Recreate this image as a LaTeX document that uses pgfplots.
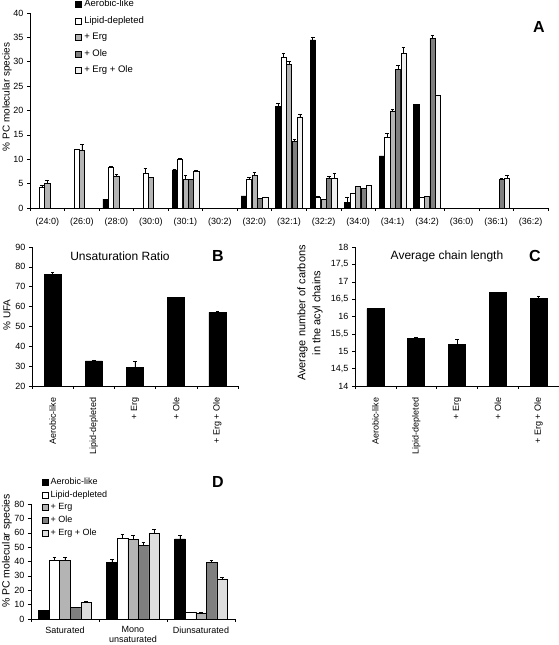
\documentclass[border=0pt]{standalone}
\usepackage{fontspec}
\setmainfont{Liberation Sans}
\usepackage{pgfplots}
\pgfplotsset{compat=1.18}
\definecolor{cerg}{HTML}{B4B4B4}
\definecolor{cole}{HTML}{7F7F7F}
\definecolor{ceo}{HTML}{F0F0F0}
\definecolor{ceoD}{HTML}{DEDEDE}
\pgfplotsset{
  base/.style={
    scale only axis, anchor=south west,
    axis x line*=bottom, axis y line*=left,
    axis line style={-, line width=0.6pt},
    tick align=outside, major tick length=3pt,
    every tick/.style={black, line width=0.5pt},
    /pgf/number format/assume math mode=true,
    tick label style={font=\fontsize{9}{10}\selectfont},
    clip=true,
  },
  sq/.style={legend image code/.code={\draw[##1, line width=0.5pt] (0pt,-3pt) rectangle (6pt,3pt);}},
  eb/.style={/pgfplots/error bars/y dir=plus, /pgfplots/error bars/y explicit,
    /pgfplots/error bars/error bar style={line width=0.5pt, black, solid},
    /pgfplots/error bars/error mark options={rotate=90, mark size=1.8pt, line width=0.5pt, black, solid}},
  bb/.style={draw=black, line width=0.5pt, sq, eb},
}
\begin{document}
\begin{tikzpicture}
\useasboundingbox (0pt,0pt) rectangle (559pt,645pt);

% ---------------- Panel A
\begin{axis}[base, at={(30pt,437pt)}, width=518pt, height=195pt,
  xmin=-0.5, xmax=14.5, ymin=0, ymax=40, ytick={0,5,...,40},
  xtick={-0.5,0.5,...,14.5}, x tick label as interval,
  xticklabels={(24:0),(26:0),(28:0),(30:0),(30:1),(30:2),(32:0),(32:1),(32:2),(34:0),(34:1),(34:2),(36:0),(36:1),(36:2)},
  xticklabel style={yshift=-3pt},
  ybar=0.2pt, bar width=5.2pt,
  legend cell align=left,
  legend style={draw=none, fill=none, inner sep=0pt, at={(0.087,1.074)}, anchor=north west,
    font=\fontsize{9.5}{10}\selectfont, row sep=5.5pt, column sep=1.5pt,
    nodes={inner sep=1pt, text height=7pt, text depth=2pt}},
]
\addplot[fill=black, bb] coordinates {(2,1.8)+-(0,0) (4,7.8)+-(0,0.1) (6,2.5)+-(0,0) (7,20.9)+-(0,0.6) (8,34.5)+-(0,0.6) (9,1.1)+-(0,1.2) (10,10.7)+-(0,0) (11,21.3)+-(0,0)};
\addplot[fill=white, bb] coordinates {(0,4.3)+-(0,0.3) (1,12.0)+-(0,0.1) (2,8.4)+-(0,0.1) (3,7.2)+-(0,0.9) (4,10.1)+-(0,0.1) (6,5.9)+-(0,0.4) (7,31.0)+-(0,0.8) (8,2.3)+-(0,0.2) (9,3.1)+-(0,0) (10,14.6)+-(0,0.7) (11,2.2)+-(0,0.1)};
\addplot[fill=cerg, bb] coordinates {(0,5.0)+-(0,0.7) (1,11.8)+-(0,1.2) (2,6.6)+-(0,0.3) (3,6.3)+-(0,0) (4,5.9)+-(0,0.8) (6,6.7)+-(0,0.6) (7,29.5)+-(0,0.5) (8,1.8)+-(0,0) (9,4.4)+-(0,0) (10,19.9)+-(0,0.4) (11,2.4)+-(0,0)};
\addplot[fill=cole, bb] coordinates {(4,5.8)+-(0,0) (6,1.9)+-(0,0) (7,13.6)+-(0,0.6) (8,6.1)+-(0,0.4) (9,4.0)+-(0,0) (10,28.4)+-(0,0.8) (11,34.8)+-(0,0.6) (13,5.9)+-(0,0.3)};
\addplot[fill=ceo, bb] coordinates {(4,7.5)+-(0,0.2) (6,2.3)+-(0,0) (7,18.7)+-(0,0.6) (8,6.2)+-(0,0.9) (9,4.7)+-(0,0) (10,31.7)+-(0,1.2) (11,23.2)+-(0,0) (13,6.0)+-(0,0.8)};
\legend{Aerobic-like, Lipid-depleted, + Erg, + Ole, + Erg + Ole}
\end{axis}

% ---------------- Panel B
\begin{axis}[base, at={(32pt,259pt)}, width=206pt, height=139pt,
  xmin=-0.5, xmax=4.5, ymin=20, ymax=90, ytick={20,30,...,90},
  xtick={-0.5,0.5,...,4.5}, x tick label as interval,
  xticklabels={Aerobic-like, Lipid-depleted, + Erg, + Ole, + Erg + Ole},
  xticklabel style={yshift=-5pt, rotate=90, anchor=east},
  ybar, bar width=17pt,
]
\addplot[fill=black, bb] coordinates {(0,76.2)+-(0,1.0) (1,32.6)+-(0,0.5) (2,29.4)+-(0,3.0) (3,64.6)+-(0,0.2) (4,57.1)+-(0,0.3)};
\end{axis}

% ---------------- Panel C
\begin{axis}[base, at={(355pt,259pt)}, width=204pt, height=139pt,
  xmin=-0.5, xmax=4.5, ymin=14, ymax=18, ytick={14,14.5,...,18},
  yticklabel style={/pgf/number format/.cd, fixed, use comma, precision=1},
  xtick={-0.5,0.5,...,4.5}, x tick label as interval,
  xticklabels={Aerobic-like, Lipid-depleted, + Erg, + Ole, + Erg + Ole},
  xticklabel style={yshift=-5pt, rotate=90, anchor=east},
  ybar, bar width=17pt,
]
\addplot[fill=black, bb] coordinates {(0,16.23)+-(0,0.02) (1,15.36)+-(0,0.05) (2,15.19)+-(0,0.15) (3,16.69)+-(0,0.02) (4,16.52)+-(0,0.05)};
\end{axis}

% ---------------- Panel D
\begin{axis}[base, at={(31pt,26pt)}, width=204pt, height=115pt,
  xmin=-0.5, xmax=2.5, ymin=0, ymax=80, ytick={0,10,...,80},
  xtick={-0.5,0.5,...,2.5}, x tick label as interval,
  xticklabels={Saturated, {Mono\\unsaturated}, Diunsaturated},
  xticklabel style={align=center, yshift=-1pt, font=\fontsize{9}{9.8}\selectfont},
  ybar=0pt, bar width=10.5pt,
  legend cell align=left,
  legend style={draw=none, fill=none, inner sep=0pt, at={(0.054,1.237)}, anchor=north west,
    font=\fontsize{9}{10}\selectfont, row sep=2.25pt, column sep=1pt,
    nodes={inner sep=1pt, text height=6.5pt, text depth=2pt}},
]
\addplot[fill=black, bb] coordinates {(0,6.0)+-(0,0.4) (1,39.5)+-(0,2) (2,55.8)+-(0,2.5)};
\addplot[fill=white, bb] coordinates {(0,40.7)+-(0,2) (1,56.3)+-(0,2.5) (2,4.4)+-(0,0.3)};
\addplot[fill=cerg, bb] coordinates {(0,41.0)+-(0,2) (1,55.6)+-(0,2.5) (2,4.3)+-(0,0.2)};
\addplot[fill=cole, bb] coordinates {(0,7.9)+-(0,0.4) (1,51.2)+-(0,2.5) (2,39.3)+-(0,1.5)};
\addplot[fill=ceoD, bb] coordinates {(0,11.7)+-(0,0.5) (1,59.8)+-(0,2.5) (2,27.9)+-(0,1.0)};
\legend{Aerobic-like, Lipid-depleted, + Erg, + Ole, + Erg + Ole}
\end{axis}

% ---------------- labels
\node[rotate=90, font=\fontsize{10}{12}\selectfont] at (7pt,548pt) {\% PC molecular species};
\node[rotate=90, font=\fontsize{10}{12}\selectfont] at (7pt,330pt) {\% UFA};
\node[rotate=90, align=center, font=\fontsize{11}{15}\selectfont] at (310pt,332pt) {Average number of carbons\\in the acyl chains};
\node[rotate=90, font=\fontsize{10.5}{12}\selectfont] at (7pt,94pt) {\% PC molecular species};
\node[font=\fontsize{12}{14}\selectfont] at (120pt,389pt) {Unsaturation Ratio};
\node[font=\fontsize{12}{14}\selectfont] at (447pt,389pt) {Average chain length};
\node[font=\bfseries\fontsize{16}{16}\selectfont] at (539pt,618pt) {A};
\node[font=\bfseries\fontsize{16}{16}\selectfont] at (218pt,389pt) {B};
\node[font=\bfseries\fontsize{16}{16}\selectfont] at (535pt,389pt) {C};
\node[font=\bfseries\fontsize{16}{16}\selectfont] at (218pt,163pt) {D};
\end{tikzpicture}
\end{document}
